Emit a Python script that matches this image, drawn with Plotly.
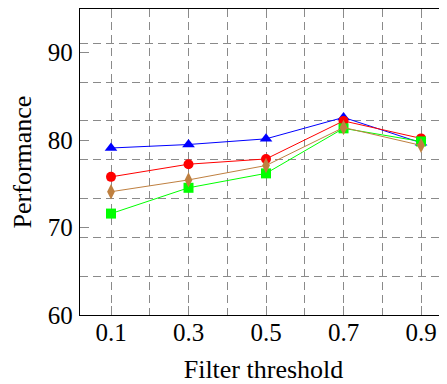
import plotly.graph_objects as go

# ---- data ----
thresholds = [0.1, 0.3, 0.5, 0.7, 0.9]
x_tick_labels = ["0.1", "0.3", "0.5", "0.7", "0.9"]
y_tick_values = [60, 70, 80, 90]
y_tick_labels = ["60", "70", "80", "90"]

series_blue = [79.1, 79.5, 80.15, 82.6, 79.7]
series_red = [75.8, 77.25, 77.85, 82.2, 80.2]
series_green = [71.6, 74.55, 76.2, 81.35, 79.85]
series_brown = [74.1, 75.45, 77.1, 81.45, 79.4]

# ---- styling ----
FONT = "Liberation Serif, Tinos, Times New Roman, serif"
GRID = "#8a8a8a"
DASH = "8px,5px"
x_grid_minor = [0.2, 0.4, 0.6, 0.8]
y_grid_lines = [64.4, 68.83, 73.3, 77.73, 82.21, 86.64, 91.11]
x_range = [0.02, 0.967]
y_range = [60, 95]

fig = go.Figure()

styles = [
    (series_blue, "#0000ff", "triangle-up", 11),
    (series_red, "#ff0000", "circle", 10),
    (series_green, "#00ff00", "square", 10),
    (series_brown, "#bf8040", "diamond-tall", 11),
]
for vals, col, sym, sz in styles:
    fig.add_trace(go.Scatter(
        x=thresholds, y=vals, mode="lines+markers",
        line=dict(color=col, width=1),
        marker=dict(color=col, symbol=sym, size=sz, line=dict(width=0)),
        showlegend=False, hoverinfo="skip",
    ))

# dummy trace so the right-hand tick axis is drawn
fig.add_trace(go.Scatter(x=[None], y=[None], yaxis="y2", showlegend=False, hoverinfo="skip"))

# the page body has an 8px margin, so the figure is sized/offset to fit the window
fig.update_layout(
    width=439, height=376,
    margin=dict(l=72, r=0, t=1, b=69, autoexpand=False),
    paper_bgcolor="white", plot_bgcolor="white",
    font=dict(family=FONT, color="black"),
    xaxis=dict(
        range=x_range, tickmode="array", tickvals=thresholds, ticktext=x_tick_labels,
        tickfont=dict(family=FONT, size=25),
        ticks="inside", ticklen=9, tickcolor=GRID, tickwidth=1,
        showline=True, linecolor="black", linewidth=1.3, mirror="ticks",
        showgrid=True, gridcolor=GRID, griddash=DASH, gridwidth=1,
        minor=dict(tickmode="array", tickvals=x_grid_minor, showgrid=True,
                   gridcolor=GRID, griddash=DASH, gridwidth=1, ticks=""),
        zeroline=False,
        title=dict(text="Filter threshold", font=dict(family=FONT, size=26), standoff=20),
        ticklabelstandoff=-5,
    ),
    yaxis=dict(
        range=y_range, tickmode="array", tickvals=y_tick_values, ticktext=y_tick_labels,
        tickfont=dict(family=FONT, size=25),
        ticks="inside", ticklen=9, tickcolor=GRID, tickwidth=1,
        showline=True, linecolor="black", linewidth=1.3, mirror=False,
        showgrid=False,
        minor=dict(tickmode="array", tickvals=y_grid_lines, showgrid=True,
                   gridcolor=GRID, griddash=DASH, gridwidth=1, ticks=""),
        zeroline=False,
        title=dict(text="Performance", font=dict(family=FONT, size=26), standoff=20),
        ticklabelstandoff=1,
    ),
    yaxis2=dict(
        range=y_range, overlaying="y", side="right", anchor="x",
        tickmode="array", tickvals=y_tick_values, showticklabels=False,
        ticks="inside", ticklen=6, tickcolor=GRID, tickwidth=1,
        showline=False, showgrid=False, zeroline=False,
    ),
)

fig.write_html("out.html")
